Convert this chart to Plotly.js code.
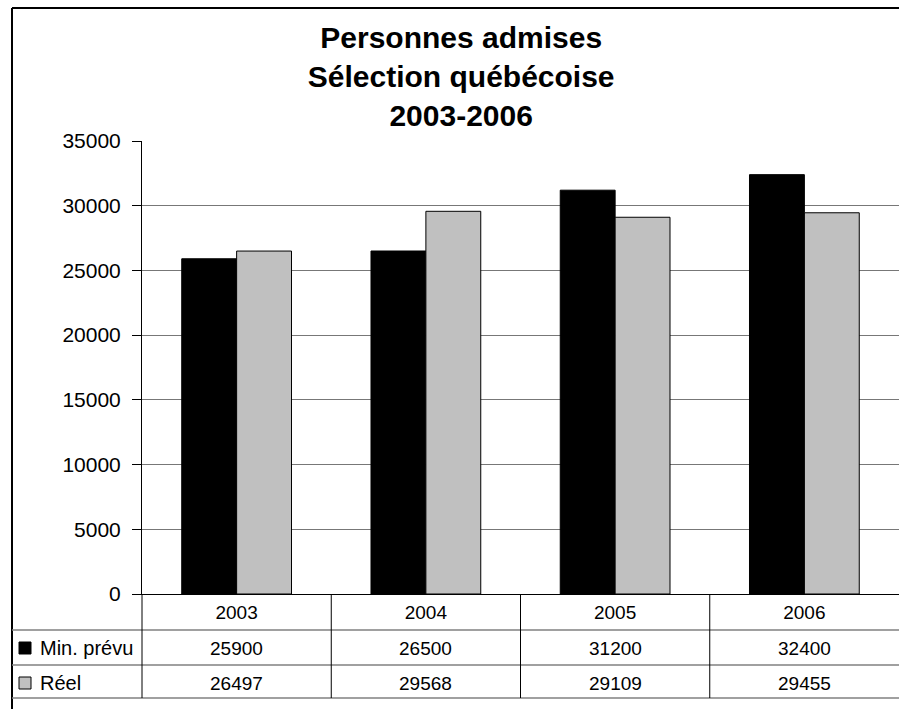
<!DOCTYPE html>
<html>
<head>
<meta charset="utf-8">
<script src="https://cdn.plot.ly/plotly-3.0.1.min.js"></script>
<style>html,body{margin:0;padding:0;background:#fff;}#chart{width:899px;height:709px;}</style>
</head>
<body>
<div id="chart"></div>
<script>
var categories = ['2003', '2004', '2005', '2006'];
var seriesNames = ['Min. prévu', 'Réel'];
var minPrevu = [25900, 26500, 31200, 32400];
var reel = [26497, 29568, 29109, 29455];
var yTicks = [0, 5000, 10000, 15000, 20000, 25000, 30000, 35000];

var W = 899, H = 709;
var mL = 142, mR = 0, mT = 141, mB = 115;
var plotW = W - mL - mR, plotH = H - mT - mB;
function px(x) { return (x - mL) / plotW; }
function py(y) { return (H - mB - y) / plotH; }

var FONT = 'Liberation Sans, Arial, sans-serif';

var traces = [
  {type: 'bar', name: seriesNames[0], x: categories, y: minPrevu,
   marker: {color: '#000000', line: {color: '#000000', width: 1}}},
  {type: 'bar', name: seriesNames[1], x: categories, y: reel,
   marker: {color: '#c0c0c0', line: {color: '#000000', width: 1}}}
];

var shapes = [];
// outer frame
shapes.push({type: 'line', xref: 'paper', yref: 'paper', x0: px(12), x1: px(12), y0: py(8), y1: py(720), line: {color: '#000', width: 2}});
shapes.push({type: 'line', xref: 'paper', yref: 'paper', x0: px(12), x1: px(910), y0: py(8), y1: py(8), line: {color: '#000', width: 2}});
// table horizontal lines
[630, 665, 698].forEach(function (yy) {
  shapes.push({type: 'line', xref: 'paper', yref: 'paper', x0: px(12), x1: px(910), y0: py(yy), y1: py(yy), line: {color: '#808080', width: 1.5}});
});
// table vertical lines
shapes.push({type: 'line', xref: 'paper', yref: 'paper', x0: 0, x1: 0, y0: py(594), y1: py(698), line: {color: '#000', width: 1}});
for (var i = 0; i < categories.length - 1; i++) {
  shapes.push({type: 'line', xref: 'x', yref: 'paper', x0: i + 0.5, x1: i + 0.5, y0: py(594), y1: py(698), line: {color: '#000', width: 1}});
}
// legend keys in table
var keyColors = ['#000000', '#c0c0c0'];
var rowCenters = [648, 683];
for (var r = 0; r < 2; r++) {
  shapes.push({type: 'rect', xref: 'paper', yref: 'paper', x0: px(19), x1: px(31), y0: py(rowCenters[r] - 6), y1: py(rowCenters[r] + 6),
    fillcolor: keyColors[r], line: {color: '#000', width: 1}});
}

var annotations = [];
var rows = [minPrevu, reel];
for (var r = 0; r < 2; r++) {
  annotations.push({xref: 'paper', yref: 'paper', x: px(38), y: py(rowCenters[r]), xanchor: 'left', yanchor: 'middle',
    text: seriesNames[r], showarrow: false, font: {family: FONT, size: 20, color: '#000'}});
  for (var c = 0; c < categories.length; c++) {
    annotations.push({xref: 'x', yref: 'paper', x: c, y: py(rowCenters[r]), xanchor: 'center', yanchor: 'middle',
      text: String(rows[r][c]), showarrow: false, font: {family: FONT, size: 19, color: '#000'}});
  }
}

var layout = {
  width: W, height: H,
  margin: {l: mL, r: mR, t: mT, b: mB},
  paper_bgcolor: '#ffffff', plot_bgcolor: '#ffffff',
  showlegend: false,
  barmode: 'group', bargap: 0.42, bargroupgap: 0,
  title: {text: 'Personnes admises<br>Sélection québécoise<br>2003-2006',
    font: {family: FONT, size: 30, color: '#000', weight: 'bold'},
    xref: 'container', yref: 'container', x: 0.513, y: 1 - 48 / H, xanchor: 'center', yanchor: 'middle'},
  xaxis: {type: 'category', range: [-0.5, 3.5], showgrid: false, zeroline: false,
    showline: true, linecolor: '#000', linewidth: 1, ticks: '', ticklabelstandoff: 1,
    tickfont: {family: FONT, size: 19, color: '#000'}, fixedrange: true},
  yaxis: {range: [0, 35000], tickvals: yTicks, ticktext: yTicks.map(String),
    showgrid: true, gridcolor: '#777777', gridwidth: 1, zeroline: false,
    showline: true, linecolor: '#000', linewidth: 1,
    ticks: 'outside', ticklen: 9, tickcolor: '#000', tickwidth: 1, ticklabelstandoff: 7,
    tickfont: {family: FONT, size: 21, color: '#000'}, fixedrange: true},
  shapes: shapes,
  annotations: annotations
};

Plotly.newPlot('chart', traces, layout, {displayModeBar: false, staticPlot: true});
</script>
</body>
</html>
